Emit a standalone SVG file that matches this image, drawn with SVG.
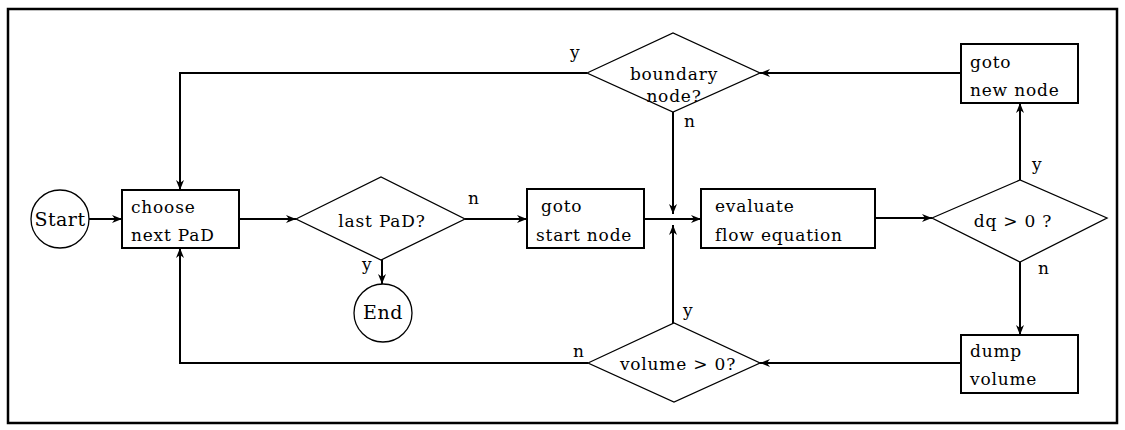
<svg xmlns="http://www.w3.org/2000/svg" width="1125" height="430" viewBox="0 0 1125 430">
<style>
.bg{fill:#fff}
.frame{fill:none;stroke:#000;stroke-width:2.5}
.box{fill:#fff;stroke:#000;stroke-width:2}
.dia{fill:#fff;stroke:#000;stroke-width:1.3}
.circ{fill:#fff;stroke:#000;stroke-width:1.3}
.ln{fill:none;stroke:#000;stroke-width:2;marker-end:url(#ah)}
text{font-family:"DejaVu Serif","Liberation Serif",serif;font-size:17px;fill:#000;letter-spacing:0.8px}
.c{text-anchor:middle}
.big{font-size:19px;letter-spacing:0.5px}
</style>
<defs>
<marker id="ah" viewBox="0 0 10 8" refX="10" refY="4" markerWidth="5" markerHeight="4" orient="auto" markerUnits="strokeWidth">
<path d="M0,0 L10,4 L0,8 L3,4 Z" fill="#000"/>
</marker>
</defs>
<rect class="bg" x="0" y="0" width="1125" height="430"/>
<rect class="frame" x="8" y="9" width="1109" height="414"/>
<g id="connectors">
<line class="ln" x1="89" y1="219" x2="122" y2="219"/>
<line class="ln" x1="239" y1="219" x2="296" y2="219"/>
<line class="ln" x1="382" y1="259" x2="382" y2="284"/>
<line class="ln" x1="465" y1="219" x2="527" y2="219"/>
<line class="ln" x1="644" y1="219" x2="701" y2="219"/>
<line class="ln" x1="875" y1="218" x2="932" y2="218"/>
<line class="ln" x1="1020" y1="180" x2="1020" y2="103"/>
<line class="ln" x1="1020" y1="262" x2="1020" y2="335"/>
<line class="ln" x1="961" y1="73" x2="760" y2="73"/>
<line class="ln" x1="961" y1="363" x2="760" y2="363"/>
<polyline class="ln" points="587,73 180,73 180,190"/>
<polyline class="ln" points="588,363 180,363 180,248"/>
<line class="ln" x1="673" y1="112" x2="673" y2="214"/>
<line class="ln" x1="673" y1="323" x2="673" y2="225"/>
<text x="362" y="270">y</text>
<text x="468" y="204">n</text>
<text x="1032" y="170">y</text>
<text x="1038" y="274">n</text>
<text x="570" y="58">y</text>
<text x="684" y="127">n</text>
<text x="683" y="316">y</text>
<text x="573" y="357">n</text>
</g>
<g id="start">
<circle class="circ" cx="60" cy="219" r="29"/>
<text class="c big" x="60" y="226">Start</text>
</g>
<g id="choose">
<rect class="box" x="122" y="190" width="117" height="58"/>
<text x="131" y="213">choose</text>
<text x="131" y="241">next PaD</text>
</g>
<g id="lastpad">
<polygon class="dia" points="296,219 381,177 465,219 381,260"/>
<text class="c" x="382" y="227">last PaD?</text>
</g>
<g id="end">
<circle class="circ" cx="383" cy="313" r="29"/>
<text class="c big" x="383" y="319">End</text>
</g>
<g id="gotostart">
<rect class="box" x="527" y="189" width="117" height="59"/>
<text x="541" y="212">goto</text>
<text x="536" y="241">start node</text>
</g>
<g id="evaluate">
<rect class="box" x="701" y="189" width="174" height="59"/>
<text x="715" y="212">evaluate</text>
<text x="715" y="241">flow equation</text>
</g>
<g id="dq">
<polygon class="dia" points="932,218 1020,180 1107,218 1020,262"/>
<text class="c" x="1013" y="227">dq &gt; 0 ?</text>
</g>
<g id="gotonew">
<rect class="box" x="961" y="44" width="117" height="59"/>
<text x="970" y="68">goto</text>
<text x="970" y="96">new node</text>
</g>
<g id="dump">
<rect class="box" x="961" y="335" width="117" height="58"/>
<text x="970" y="357">dump</text>
<text x="970" y="385">volume</text>
</g>
<g id="boundary">
<polygon class="dia" points="587,73 673,33 760,73 673,112"/>
<text class="c" x="674" y="80">boundary</text>
<text class="c" x="674" y="102">node?</text>
</g>
<g id="volume">
<polygon class="dia" points="588,363 674,323 760,363 674,402"/>
<text class="c" x="678" y="370">volume &gt; 0?</text>
</g>
</svg>
